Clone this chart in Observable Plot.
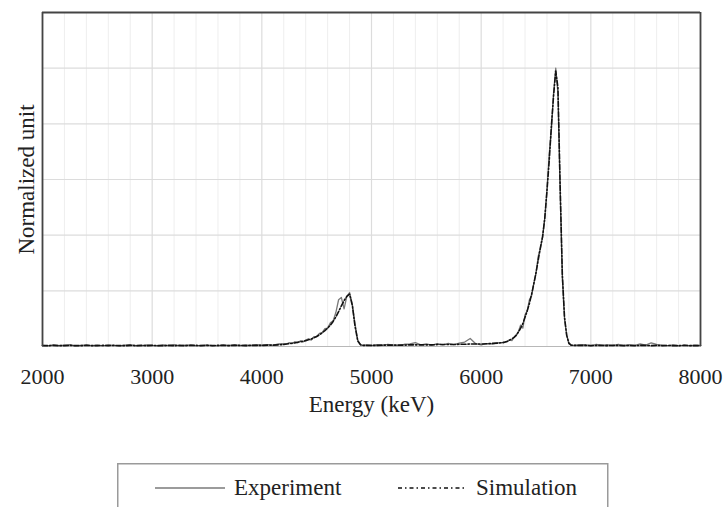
<!DOCTYPE html>
<html>
<head>
<meta charset="utf-8">
<script src="https://cdn.jsdelivr.net/npm/d3@7"></script>
<script src="https://cdn.jsdelivr.net/npm/@observablehq/plot@0.6"></script>
<style>
  html, body { margin: 0; padding: 0; background: #fff; overflow: hidden; }
  #wrap { position: relative; width: 723px; height: 507px; }
  #legend { position: absolute; left: 117px; top: 463px; }
</style>
</head>
<body>
<div id="wrap"><div id="chart"></div><div id="legend"></div></div>
<script>
// ---- data ----
const energy = [
  2000,2050,2100,2150,2200,2250,2300,2350,2400,2450,2500,2550,2600,2650,2700,2750,2800,2850,2900,2950,
  3000,3050,3100,3150,3200,3250,3300,3350,3400,3450,3500,3550,3600,3650,3700,3750,3800,3850,3900,3950,4000,
  4050,4100,4150,4200,
  4225,4250,4275,4300,4325,4350,4375,4400,4425,4450,4475,4500,4525,4550,4575,4600,4625,4650,4675,4700,
  4725,4750,4775,4800,4825,4850,4875,4900,4925,
  4950,5000,5050,5100,5150,5200,5250,5300,5350,5400,5450,5500,5550,5600,5650,5700,5750,5800,5850,5900,
  5950,6000,6050,6100,6150,6200,
  6220,6240,6260,6280,6300,6320,6340,6360,6380,6400,6420,6440,6460,6480,6500,6520,6540,6560,6580,6600,
  6620,6640,6660,6680,6700,6720,6740,6760,6780,6800,6820,6840,
  6900,6950,7000,7050,7100,7150,7200,7250,7300,7350,7400,7450,7500,7550,7600,7650,7700,7750,7800,7850,
  7900,7950,8000
];
const experiment = [
  0.004,0.002,0.006,0.003,0.005,0.007,0.002,0.004,0.006,0.003,
  0.005,0.002,0.006,0.004,0.002,0.005,0.007,0.003,0.002,0.006,
  0.004,0.002,0.006,0.003,0.007,0.002,0.005,0.006,0.002,0.004,
  0.006,0.003,0.002,0.006,0.004,0.007,0.003,0.006,0.004,0.007,0.005,
  0.007,0.004,0.009,0.010,
  0.009,0.014,0.010,0.017,0.013,0.020,0.016,0.023,0.028,0.023,0.035,0.036,0.047,0.050,0.064,0.066,0.085,0.092,0.122,0.168,
  0.176,0.135,0.180,0.194,0.152,0.080,0.022,0.006,0.004,
  0.006,0.003,0.007,0.004,0.008,0.005,0.004,0.008,0.009,0.014,0.006,0.009,0.005,0.010,0.006,0.011,0.007,0.012,0.016,0.029,
  0.010,0.006,0.010,0.009,0.013,0.015,
  0.017,0.018,0.025,0.021,0.033,0.039,0.054,0.077,0.066,0.114,0.128,0.168,0.182,0.228,0.262,0.324,0.352,0.392,0.462,0.560,
  0.690,0.775,0.910,1.000,0.910,0.560,0.250,0.100,0.040,0.010,0.005,0.004,
  0.006,0.007,0.003,0.008,0.004,0.007,0.003,0.008,0.004,0.007,0.004,0.009,0.005,0.013,0.008,0.005,0.003,0.006,0.002,0.005,
  0.003,0.005,0.004
];
const simulation = [
  0.003,0.003,0.004,0.003,0.003,0.004,0.003,0.003,0.004,0.003,
  0.003,0.004,0.003,0.004,0.003,0.003,0.004,0.003,0.004,0.003,
  0.004,0.003,0.003,0.004,0.003,0.004,0.003,0.004,0.004,0.003,
  0.004,0.003,0.004,0.004,0.003,0.004,0.004,0.003,0.004,0.004,0.004,
  0.005,0.005,0.006,0.007,
  0.009,0.010,0.012,0.013,0.015,0.017,0.019,0.021,0.024,0.027,0.031,0.036,0.042,0.049,0.057,0.066,0.077,0.090,0.106,0.125,
  0.146,0.165,0.180,0.188,0.148,0.072,0.020,0.006,0.004,
  0.004,0.004,0.004,0.005,0.005,0.005,0.005,0.005,0.006,0.006,0.006,0.006,0.006,0.007,0.007,0.007,0.007,0.008,0.008,0.009,
  0.009,0.009,0.010,0.011,0.012,0.014,
  0.016,0.019,0.023,0.027,0.033,0.041,0.052,0.066,0.082,0.105,0.128,0.155,0.188,0.225,0.265,0.310,0.355,0.395,0.460,0.560,
  0.665,0.790,0.900,0.990,0.930,0.580,0.260,0.105,0.040,0.012,0.005,0.004,
  0.004,0.004,0.003,0.004,0.004,0.003,0.004,0.004,0.003,0.004,0.003,0.004,0.004,0.003,0.004,0.003,0.004,0.003,0.003,0.004,
  0.003,0.003,0.003
];
const xTicks = [2000, 3000, 4000, 5000, 6000, 7000, 8000];
const xMinorTicks = [2200,2400,2600,2800,3200,3400,3600,3800,4200,4400,4600,4800,5200,5400,5600,5800,6200,6400,6600,6800,7200,7400,7600,7800];
const yGrid = [0.2, 0.4, 0.6, 0.8, 1.0];
const xDomain = [2000, 8000];
const yDomain = [0, 1.2];
const seriesNames = ["Experiment", "Simulation"];
const xLabel = "Energy (keV)";
const yLabel = "Normalized unit";

// ---- build table ----
const rows = energy.map((e, i) => ({ e, exp: experiment[i], sim: simulation[i] }));

const FONT = "'Liberation Serif', 'Times New Roman', serif";
const EXP_COLOR = "#7a7a7a";
const SIM_COLOR = "#111";
const SIM_DASH = "5,2,1.5,2";

const chart = Plot.plot({
  width: 723,
  height: 440,
  marginTop: 12,
  marginLeft: 42,
  marginRight: 23,
  marginBottom: 94,
  style: { fontFamily: FONT, fontSize: "22px", color: "#222", background: "#fff" },
  x: { domain: xDomain, label: null },
  y: { domain: yDomain, axis: null },
  marks: [
    Plot.ruleX(xMinorTicks, { stroke: "#eeeeee", strokeWidth: 1 }),
    Plot.ruleX(xTicks, { stroke: "#dcdcdc", strokeWidth: 1.2 }),
    Plot.ruleY(yGrid, { stroke: "#dcdcdc", strokeWidth: 1.2 }),
    Plot.ruleY([yDomain[0]], { stroke: "#b8b8b8", strokeWidth: 1.2 }),
    Plot.line(rows, { x: "e", y: "exp", stroke: EXP_COLOR, strokeWidth: 1.3 }),
    Plot.line(rows, { x: "e", y: "sim", stroke: SIM_COLOR, strokeWidth: 1.6, strokeDasharray: SIM_DASH }),
    Plot.ruleX(xDomain, { stroke: "#444", strokeWidth: 1.8 }),
    Plot.ruleY([yDomain[1]], { stroke: "#444", strokeWidth: 1.8 }),
    Plot.axisX({ ticks: xTicks, tickSize: 0, tickPadding: 22, tickFormat: d => String(d), fontSize: 22, fill: "#222", label: null }),
    Plot.text([xLabel], { frameAnchor: "bottom", lineAnchor: "bottom", dy: 65, fontSize: 23, fill: "#222" }),
    Plot.text([yLabel], { frameAnchor: "left", textAnchor: "middle", rotate: -90, dx: -16, fontSize: 23, fill: "#222" })
  ]
});
document.getElementById("chart").appendChild(chart);

// ---- legend (below the plot) ----
const ns = "http://www.w3.org/2000/svg";
const lg = document.createElementNS(ns, "svg");
lg.setAttribute("width", 495);
lg.setAttribute("height", 50);
lg.style.fontFamily = FONT;
function el(tag, attrs, text) {
  const n = document.createElementNS(ns, tag);
  for (const k in attrs) n.setAttribute(k, attrs[k]);
  if (text) n.textContent = text;
  lg.appendChild(n);
  return n;
}
el("rect", { x: 0.75, y: 0.75, width: 490, height: 80, fill: "#fff", stroke: "#9a9a9a", "stroke-width": 1.5 });
el("line", { x1: 38, x2: 108, y1: 25, y2: 25, stroke: EXP_COLOR, "stroke-width": 1.3 });
el("text", { x: 117, y: 25, dy: "0.32em", "font-size": 23, fill: "#222" }, seriesNames[0]);
el("line", { x1: 281, x2: 349, y1: 25, y2: 25, stroke: SIM_COLOR, "stroke-width": 1.3, "stroke-dasharray": "4,3,1.5,3" });
el("text", { x: 359, y: 25, dy: "0.32em", "font-size": 23, fill: "#222" }, seriesNames[1]);
document.getElementById("legend").appendChild(lg);
</script>
</body>
</html>
